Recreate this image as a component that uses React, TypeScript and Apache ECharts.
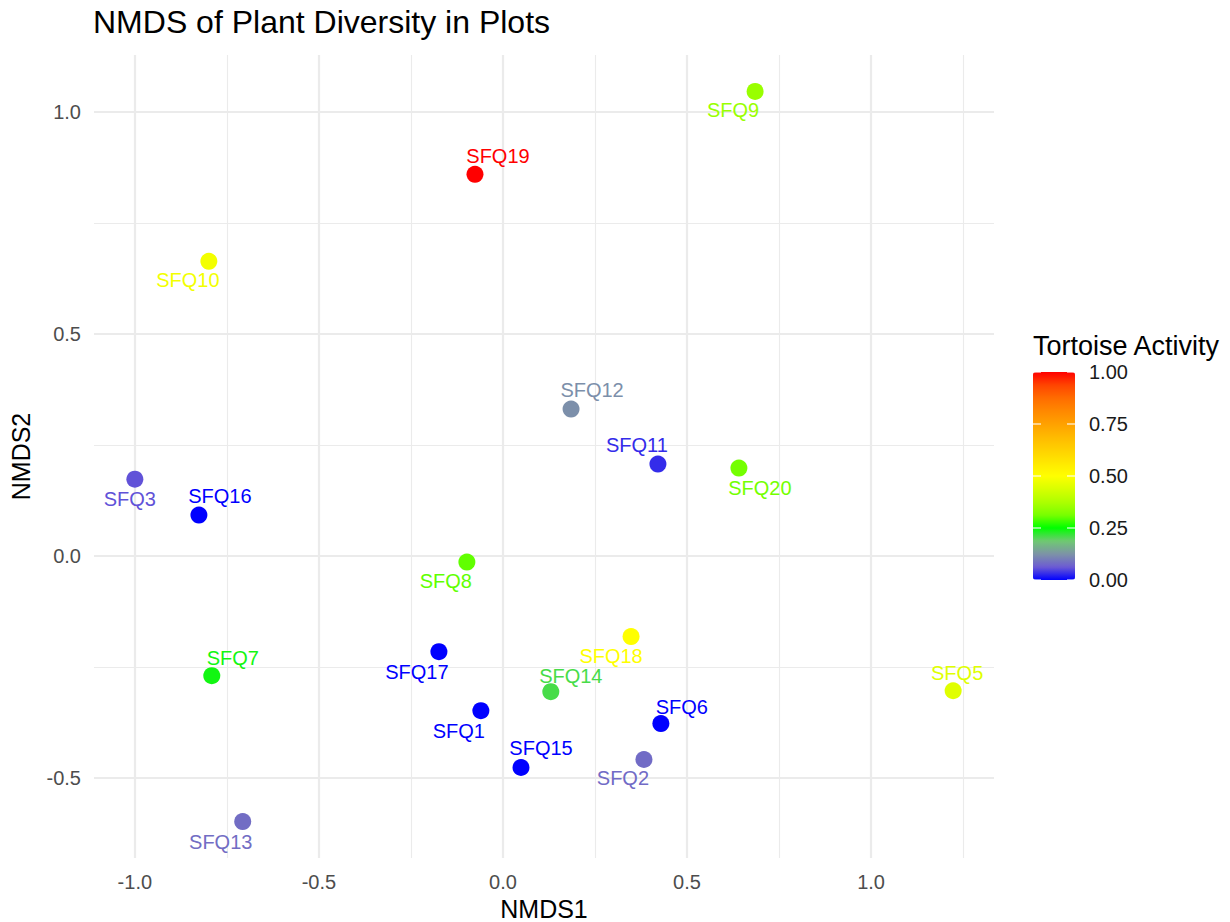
import React, { useEffect, useRef } from "react";
import * as echarts from "echarts";

// ---- data ----
const plots = ["SFQ1", "SFQ2", "SFQ3", "SFQ5", "SFQ6", "SFQ7", "SFQ8", "SFQ9", "SFQ10", "SFQ11", "SFQ12", "SFQ13", "SFQ14", "SFQ15", "SFQ16", "SFQ17", "SFQ18", "SFQ19", "SFQ20"];
const nmds1 = [-0.060, 0.383, -1.000, 1.223, 0.429, -0.791, -0.098, 0.685, -0.799, 0.421, 0.185, -0.707, 0.130, 0.049, -0.826, -0.174, 0.348, -0.076, 0.641];
const nmds2 = [-0.349, -0.459, 0.173, -0.304, -0.378, -0.270, -0.014, 1.047, 0.664, 0.207, 0.331, -0.599, -0.306, -0.477, 0.092, -0.216, -0.182, 0.860, 0.198];
const activity = [0.0, 0.08, 0.056, 0.45, 0.0, 0.24, 0.30, 0.35, 0.48, 0.03, 0.12, 0.083, 0.21, 0.0, 0.0, 0.0, 0.5, 1.0, 0.31];

const xMajorTicks = [-1.0, -0.5, 0.0, 0.5, 1.0];
const xMinorTicks = [-0.75, -0.25, 0.25, 0.75, 1.25];
const yMinorTicks = [-0.25, 0.25, 0.75];
const legendTicks = [0, 0.25, 0.5, 0.75, 1.0];
const legendTickLabels = ["0.00", "0.25", "0.50", "0.75", "1.00"];

// ---- styling ----
// label offsets (px) relative to each point's centre, mimicking the repelled labels
const labelOffsets: Record<string, [number, number]> = {
  SFQ1: [-22, 20], SFQ2: [-21, 18], SFQ3: [-5, 20], SFQ5: [4, -18], SFQ6: [21, -17],
  SFQ7: [21, -18], SFQ8: [-21, 19], SFQ9: [-22, 19], SFQ10: [-21, 19], SFQ11: [-21, -19],
  SFQ12: [21, -19], SFQ13: [-22, 20], SFQ14: [20, -16], SFQ15: [20, -19], SFQ16: [21, -19],
  SFQ17: [-22, 20], SFQ18: [-20, 19], SFQ19: [23, -18], SFQ20: [21, 20],
};

// blue -> green (0.25) -> yellow (0.5) -> red (1), sampled in Lab space at 1/16 steps
const gradientColors = [
  "#0000FF", "#6C5BD3", "#7D93A6", "#6FC972", "#00FF00", "#79FF00", "#AEFF00", "#D8FF00",
  "#FFFF00", "#FFE800", "#FFD100", "#FFBA00", "#FFA100", "#FF8800", "#FF6C00", "#FF4400", "#FF0000",
];

const FONT = "'Liberation Sans', Arial, Helvetica, sans-serif";
const GRID = { left: 94, right: 236, top: 55, bottom: 64 };
const BAR = { left: 1033, top: 372, width: 42, height: 208 };

export default function App() {
  const ref = useRef<HTMLDivElement>(null);

  useEffect(() => {
    if (!ref.current) return;
    const chart = echarts.init(ref.current, undefined, { renderer: "svg" });

    const points = plots.map((name, i) => ({
      name,
      value: [nmds1[i], nmds2[i], activity[i]],
      label: { offset: labelOffsets[name] },
    }));

    const fmt = (v: number) =>
      xMajorTicks.some((t) => Math.abs(t - v) < 1e-9) || Math.abs(v * 2 - Math.round(v * 2)) < 1e-9
        ? v.toFixed(1)
        : "";

    const legendGraphics: any[] = [];
    legendTicks.forEach((t, i) => {
      const y = BAR.top + BAR.height * (1 - t);
      legendGraphics.push({
        type: "text",
        x: BAR.left + BAR.width + 14,
        y,
        z: 100,
        style: {
          text: legendTickLabels[i],
          fill: "#1A1A1A",
          fontSize: 20,
          fontFamily: FONT,
          verticalAlign: "middle",
          align: "left",
        },
      });
      [0, BAR.width - 8].forEach((dx) => {
        legendGraphics.push({
          type: "line",
          z: 100,
          shape: { x1: BAR.left + dx, y1: y, x2: BAR.left + dx + 8, y2: y },
          style: { stroke: "#FFFFFF", lineWidth: 1.2, opacity: 0.9 },
        });
      });
    });
    legendGraphics.push({
      type: "text",
      x: BAR.left,
      y: 346,
      z: 100,
      style: {
        text: "Tortoise Activity",
        fill: "#000000",
        fontSize: 27,
        fontFamily: FONT,
        verticalAlign: "middle",
        align: "left",
      },
    });

    chart.setOption({
      animation: false,
      backgroundColor: "#FFFFFF",
      textStyle: { fontFamily: FONT },
      title: {
        text: "NMDS of Plant Diversity in Plots",
        left: 88,
        top: 1,
        textStyle: { fontSize: 32, fontWeight: "normal", color: "#000000", fontFamily: FONT },
      },
      grid: { ...GRID, containLabel: false, outerBoundsMode: "none" },
      xAxis: {
        type: "value",
        min: -1.111,
        max: 1.334,
        splitNumber: 5,
        name: "NMDS1",
        nameLocation: "middle",
        nameGap: 34,
        nameTextStyle: { fontSize: 25, color: "#000000", fontFamily: FONT },
        axisLine: { show: false },
        axisTick: { show: false },
        axisLabel: { fontSize: 20, color: "#4D4D4D", margin: 14, formatter: fmt, fontFamily: FONT },
        splitLine: { show: true, showMinLine: false, showMaxLine: false, lineStyle: { color: "#EBEBEB", width: 2.2 } },
      },
      yAxis: {
        type: "value",
        min: -0.681,
        max: 1.129,
        splitNumber: 4,
        name: "NMDS2",
        nameLocation: "middle",
        nameGap: 61,
        nameTextStyle: { fontSize: 25, color: "#000000", fontFamily: FONT },
        axisLine: { show: false },
        axisTick: { show: false },
        axisLabel: { fontSize: 20, color: "#4D4D4D", margin: 13, formatter: fmt, fontFamily: FONT },
        splitLine: { show: true, showMinLine: false, showMaxLine: false, lineStyle: { color: "#EBEBEB", width: 2.2 } },
      },
      visualMap: {
        type: "continuous",
        min: 0,
        max: 1,
        dimension: 2,
        seriesIndex: 0,
        calculable: false,
        hoverLink: false,
        left: BAR.left,
        top: BAR.top,
        itemWidth: BAR.width,
        itemHeight: BAR.height,
        padding: 0,
        text: null,
        inRange: { color: gradientColors },
      },
      graphic: legendGraphics,
      series: [
        {
          type: "scatter",
          z: 5,
          symbol: "circle",
          symbolSize: 17,
          data: points,
          itemStyle: { opacity: 1 },
          label: {
            show: true,
            position: "inside",
            formatter: "{b}",
            color: "inherit",
            fontSize: 20,
            fontFamily: FONT,
            textBorderWidth: 0,
          },
          emphasis: { disabled: true },
        },
        {
          type: "scatter",
          z: 1,
          data: [],
          silent: true,
          markLine: {
            silent: true,
            symbol: ["none", "none"],
            label: { show: false },
            lineStyle: { type: "solid", color: "#EBEBEB", width: 1.1 },
            emphasis: { disabled: true },
            data: [
              ...xMinorTicks.map((v) => ({ xAxis: v })),
              ...yMinorTicks.map((v) => ({ yAxis: v })),
            ],
          },
        },
      ],
    });

    return () => chart.dispose();
  }, []);

  return (
    <div
      ref={ref}
      style={{ position: "fixed", left: 0, top: 0, width: 1230, height: 922 }}
    />
  );
}
